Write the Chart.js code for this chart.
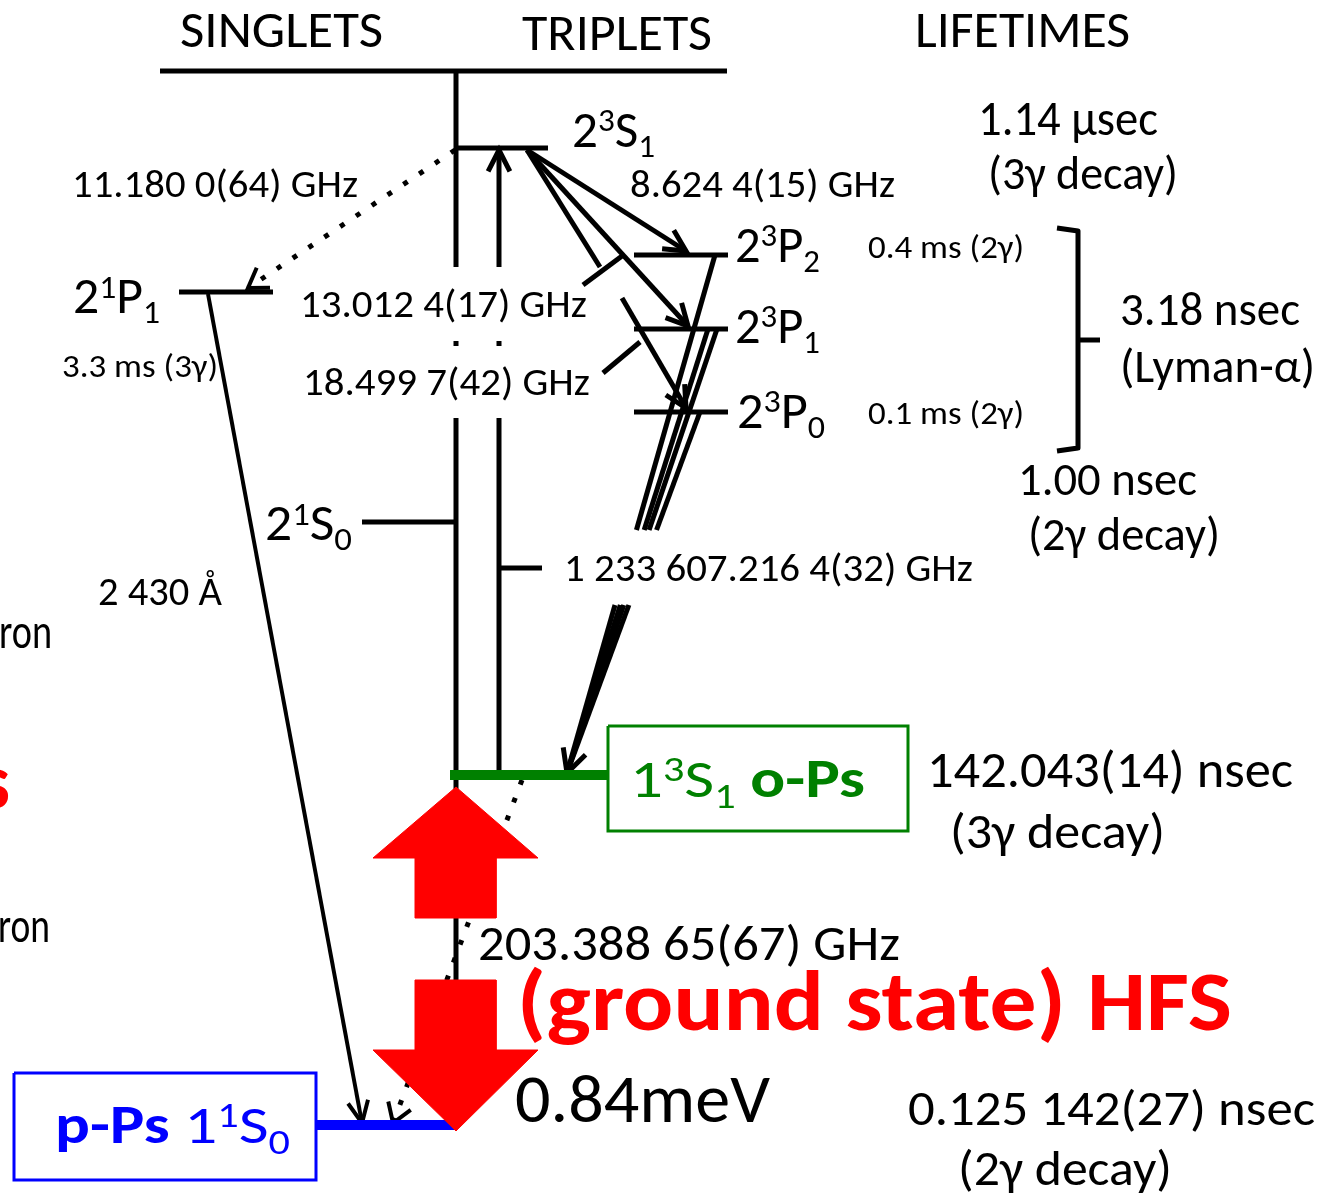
<!DOCTYPE html>
<html>
<head>
<meta charset="utf-8">
<script src="https://cdn.jsdelivr.net/npm/chart.js@4.4.1/dist/chart.umd.min.js"></script>
<style>
  html, body { margin: 0; padding: 0; background: #fff; }
  canvas { display: block; }
</style>
</head>
<body>
<canvas id="diagram" width="1335" height="1200"></canvas>
<script>
// ---- diagram data (positions in diagram units, y grows downward) ----

// energy levels: [x start, x end, y]
const levelLines = [
  [160, 727, 71],   // header rule
  [456, 548, 148],  // 2 3S1
  [179, 273, 292],  // 2 1P1
  [634, 728, 255],  // 2 3P2
  [634, 728, 329],  // 2 3P1
  [634, 728, 412],  // 2 3P0
  [362, 456, 522]   // 2 1S0
];
const orthoLevel = [450, 608, 775];
const paraLevel = [316, 456, 1125];

// vertical stems: [x, y top, y bottom]
const stems = [
  [456, 71, 267], [456, 341, 346], [456, 418, 1125],
  [499, 341, 346], [499, 418, 775]
];

// plain strokes: [x1, y1, x2, y2]
const strokes = [
  [499, 568, 542, 568],
  [527, 150, 600, 267],
  [583, 285, 622, 256],
  [603, 373, 640, 342]
];

// arrows with open heads at the end point
const arrows = [
  [499, 267, 499, 150],
  [527, 150, 686, 251],
  [527, 150, 688, 326],
  [622, 298, 686, 408]
];
const p1Decay = [208, 294, 362, 1123];

// 2 3P -> 1 3S1 lines, broken where the label sits
const decayFrom = [[715, 255], [717, 329], [708, 329], [700, 412]];
const decayTip = [567, 773];
const decayGap = [530, 605];

// dotted transitions
const dottedArrows = [
  [455, 150, 248, 288],
  [522, 780, 393, 1123]
];

// HFS double arrow
const hfsUp = [[456, 787], [538, 858], [496, 858], [496, 918], [415, 918], [415, 858], [373, 858]];
const hfsDown = [[415, 980], [496, 980], [496, 1050], [538, 1050], [456, 1131], [373, 1050], [415, 1050]];

// lifetime bracket
const bracket = [[1057, 228], [1078, 231], [1078, 448], [1057, 451]];
const bracketTick = [[1078, 340], [1100, 340]];

// state boxes: [x1, y1, x2, y2]
const orthoBox = [608, 726, 908, 831];
const paraBox = [14, 1073, 316, 1180];

// texts (^ = superscript next char, _ = subscript next char, * toggles bold)
const labelTexts = [
  'SINGLETS', 'TRIPLETS', 'LIFETIMES',
  '2^3S_1', '1.14 μsec', '(3γ decay)',
  '11.180 0(64) GHz', '8.624 4(15) GHz',
  '2^3P_2', '0.4 ms (2γ)', '2^1P_1', '13.012 4(17) GHz',
  '2^3P_1', '3.18 nsec', '3.3 ms (3γ)', '18.499 7(42) GHz',
  '(Lyman-α)', '2^3P_0', '0.1 ms (2γ)', '1.00 nsec', '(2γ decay)',
  '2^1S_0', '1 233 607.216 4(32) GHz', '2 430 Å', 'ron', '*s*', 'ron',
  '1^3S_1 *o-Ps*', '142.043(14) nsec', '(3γ decay)',
  '203.388 65(67) GHz', '*(ground state) HFS*', '0.84meV',
  '0.125 142(27) nsec', '(2γ decay)', '*p-Ps* 1^1S_0'
];

// ---- layout for the texts: [x left, baseline, font size, width, colour] ----
const RED = '#ff0000', GREEN = '#008000', BLUE = '#0000ff', INK = '#000000';
const labelLayout = [
  [180, 47, 47, 203], [522, 50, 47, 190], [915, 47, 47, 215],
  [572, 147, 47, 83], [978, 135, 44, 180], [988, 189, 43, 190],
  [72, 197, 35, 286], [630, 197, 35, 265],
  [735, 262, 47, 85], [868, 258, 29, 156], [73, 313, 46, 87], [300, 317, 35, 287],
  [735, 343, 47, 85], [1120, 325, 42, 180], [62, 377, 29, 156], [303, 395, 35, 287],
  [1120, 382, 42, 195], [737, 428, 47, 88], [868, 424, 29, 156], [1018, 495, 43, 179], [1028, 550, 43, 192],
  [265, 540, 46, 87], [564, 581, 36, 409], [98, 605, 37, 124], [-1, 648, 44, 53], [-20, 808, 72, 30, RED], [-2, 942, 44, 52],
  [630, 797, 49, 235, GREEN], [927, 787, 46, 366], [950, 848, 45, 215],
  [478, 960, 45, 422], [517, 1030, 77, 715, RED], [515, 1122, 61, 255],
  [908, 1125, 45, 407], [958, 1185, 45, 214], [55, 1143, 49, 235, BLUE]
];

const FONT = 'Carlito, Lato, "Open Sans", sans-serif';
const SIZE_FIX = 1.1; // Lato runs a little shorter than the original face

// ---- build datasets ----
const datasets = [];
function addLine(points, opts) {
  datasets.push(Object.assign({
    data: points.map(p => ({ x: p[0], y: p[1] })),
    borderColor: INK,
    borderWidth: 5,
    pointRadius: 0,
    fill: false,
    tension: 0,
    borderCapStyle: 'butt',
    borderJoinStyle: 'miter',
    order: 2
  }, opts));
}
function head(x1, y1, x2, y2, len, ang) {
  const a = Math.atan2(y1 - y2, x1 - x2);
  return [
    [x2 + len * Math.cos(a + ang), y2 + len * Math.sin(a + ang)],
    [x2, y2],
    [x2 + len * Math.cos(a - ang), y2 + len * Math.sin(a - ang)]
  ];
}
const HEAD_ANG = 27 * Math.PI / 180;

// red HFS arrows on top
addLine(hfsUp.concat([hfsUp[0]]), { borderColor: RED, backgroundColor: RED, borderWidth: 1, fill: 'shape', order: 0 });
addLine(hfsDown.concat([hfsDown[0]]), { borderColor: RED, backgroundColor: RED, borderWidth: 1, fill: 'shape', order: 0 });

// ground state levels
addLine([[orthoLevel[0], orthoLevel[2]], [orthoLevel[1], orthoLevel[2]]], { borderColor: GREEN, borderWidth: 10, order: 1 });
addLine([[paraLevel[0], paraLevel[2]], [paraLevel[1], paraLevel[2]]], { borderColor: BLUE, borderWidth: 10, order: 1 });

levelLines.forEach(l => addLine([[l[0], l[2]], [l[1], l[2]]], { borderWidth: 5 }));
stems.forEach(s => addLine([[s[0], s[1]], [s[0], s[2]]], { borderWidth: 5 }));
strokes.forEach(s => addLine([[s[0], s[1]], [s[2], s[3]]], { borderWidth: 5 }));

arrows.forEach(a => {
  addLine([[a[0], a[1]], [a[2], a[3]]], { borderWidth: 5 });
  addLine(head(a[0], a[1], a[2], a[3], 24, HEAD_ANG), { borderWidth: 5 });
});
addLine([[p1Decay[0], p1Decay[1]], [p1Decay[2], p1Decay[3]]], { borderWidth: 4 });
addLine(head(p1Decay[0], p1Decay[1], p1Decay[2], p1Decay[3], 24, 25 * Math.PI / 180), { borderWidth: 4 });

decayFrom.forEach(p => {
  const at = y => p[0] + (decayTip[0] - p[0]) * (y - p[1]) / (decayTip[1] - p[1]);
  addLine([p, [at(decayGap[0]), decayGap[0]]], { borderWidth: 5 });
  addLine([[at(decayGap[1]), decayGap[1]], decayTip], { borderWidth: 5 });
});
addLine(head(decayFrom[1][0], decayFrom[1][1], decayTip[0], decayTip[1], 26, HEAD_ANG), { borderWidth: 5 });

dottedArrows.forEach(d => {
  addLine([[d[0], d[1]], [d[2], d[3]]], { borderWidth: 5, borderDash: [5, 14], order: 3 });
  addLine(head(d[0], d[1], d[2], d[3], 22, 33 * Math.PI / 180), { borderWidth: 4, order: 3 });
});

addLine(bracket, { borderWidth: 5, borderJoinStyle: 'round' });
addLine(bracketTick, { borderWidth: 5 });

function boxPath(b) {
  return [[b[0], b[1]], [b[2], b[1]], [b[2], b[3]], [b[0], b[3]], [b[0], b[1]]];
}
addLine(boxPath(orthoBox), { borderColor: GREEN, borderWidth: 3 });
addLine(boxPath(paraBox), { borderColor: BLUE, borderWidth: 3 });

// ---- rich text drawing ----
function parseRuns(str) {
  const runs = [];
  let bold = false, mode = '';
  for (const ch of str) {
    if (ch === '*') { bold = !bold; continue; }
    if (ch === '^' || ch === '_') { mode = ch; continue; }
    const last = runs[runs.length - 1];
    if (last && last.bold === bold && last.mode === mode) last.t += ch;
    else runs.push({ t: ch, bold, mode });
    mode = '';
  }
  return runs;
}
function runFont(r, size) {
  const s = r.mode ? size * 0.65 : size;
  return (r.bold ? 'bold ' : '') + s.toFixed(1) + 'px ' + FONT;
}

const textPlugin = {
  id: 'diagramText',
  afterDatasetsDraw(chart) {
    const ctx = chart.ctx;
    const xs = chart.scales.x, ys = chart.scales.y;
    labelTexts.forEach((txt, i) => {
      const [lx, ly, baseSize, width, color] = labelLayout[i];
      const size = baseSize * SIZE_FIX;
      const runs = parseRuns(txt);
      let natural = 0;
      runs.forEach(r => { ctx.font = runFont(r, size); r.w = ctx.measureText(r.t).width; natural += r.w; });
      const sx = width / natural;
      ctx.save();
      ctx.translate(xs.getPixelForValue(lx), ys.getPixelForValue(ly));
      ctx.scale(sx, 1);
      ctx.fillStyle = color || INK;
      ctx.textBaseline = 'alphabetic';
      ctx.textAlign = 'left';
      let cx = 0;
      runs.forEach(r => {
        ctx.font = runFont(r, size);
        const dy = r.mode === '^' ? -0.3 * size : r.mode === '_' ? 0.2 * size : 0;
        ctx.fillText(r.t, cx, dy);
        cx += r.w;
      });
      ctx.restore();
    });
  }
};

new Chart(document.getElementById('diagram'), {
  type: 'line',
  data: { datasets },
  options: {
    responsive: false,
    devicePixelRatio: 1,
    animation: false,
    layout: { padding: 0 },
    scales: {
      x: { type: 'linear', min: 0, max: 1335, display: false },
      y: { type: 'linear', min: 0, max: 1200, reverse: true, display: false }
    },
    plugins: {
      legend: { display: false },
      tooltip: { enabled: false }
    },
    events: []
  },
  plugins: [textPlugin]
});
</script>
</body>
</html>
